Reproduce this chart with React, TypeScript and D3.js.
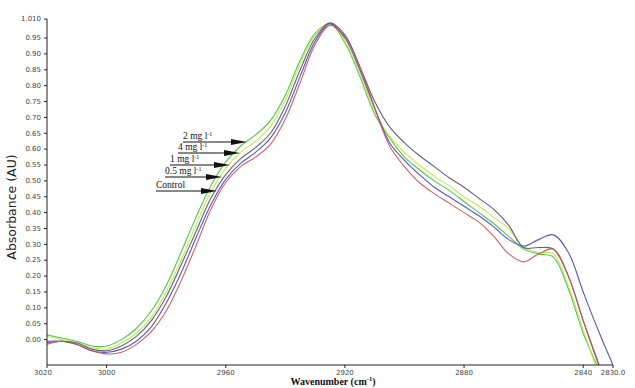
import React from "react";
import * as d3 from "d3";

const wavenumbers = [3020,3015,3010,3005,3000,2995,2990,2985,2980,2975,2970,2965,2960,2955,2950,2945,2940,2935,2930,2925,2920,2915,2910,2905,2900,2895,2890,2885,2880,2875,2870,2865,2860,2855,2850,2845,2840,2835,2830];

const mg2 = [0.015,0.005,-0.005,-0.02,-0.02,0.0,0.035,0.09,0.17,0.275,0.385,0.485,0.56,0.61,0.645,0.69,0.77,0.88,0.965,0.995,0.935,0.83,0.71,0.635,0.575,0.535,0.50,0.47,0.435,0.40,0.365,0.325,0.285,0.27,0.26,0.16,0.02,-0.09,-0.2];
const mg4 = [0.01,0.0,-0.01,-0.025,-0.03,-0.01,0.02,0.07,0.15,0.25,0.36,0.465,0.54,0.59,0.625,0.67,0.755,0.87,0.96,0.998,0.94,0.84,0.72,0.64,0.59,0.55,0.515,0.485,0.45,0.42,0.385,0.35,0.29,0.275,0.27,0.17,0.03,-0.1,-0.2];
const mg1 = [-0.01,-0.005,-0.01,-0.03,-0.035,-0.02,0.01,0.06,0.135,0.235,0.34,0.445,0.52,0.57,0.605,0.65,0.735,0.85,0.95,0.998,0.96,0.86,0.75,0.67,0.62,0.58,0.545,0.51,0.48,0.445,0.41,0.36,0.29,0.29,0.285,0.2,0.06,-0.075,-0.2];
const mg05 = [-0.005,-0.005,-0.015,-0.035,-0.04,-0.03,-0.005,0.04,0.115,0.21,0.32,0.425,0.505,0.555,0.59,0.635,0.715,0.83,0.94,0.995,0.95,0.85,0.73,0.62,0.565,0.52,0.48,0.45,0.42,0.39,0.355,0.315,0.295,0.315,0.33,0.275,0.15,0.03,-0.08];
const control = [-0.015,-0.005,-0.015,-0.035,-0.045,-0.04,-0.015,0.025,0.09,0.185,0.295,0.41,0.495,0.545,0.575,0.615,0.695,0.81,0.93,0.99,0.955,0.86,0.73,0.61,0.545,0.495,0.46,0.43,0.40,0.37,0.325,0.27,0.245,0.27,0.285,0.2,0.06,-0.07,-0.2];

const seriesValues = [mg2, mg4, mg1, mg05, control];
const seriesColors = ["#3cbf3c", "#c2e53a", "#505070", "#4545b5", "#cc5050"];

const yTicks = [0,0.05,0.1,0.15,0.2,0.25,0.3,0.35,0.4,0.45,0.5,0.55,0.6,0.65,0.7,0.75,0.8,0.85,0.9,0.95,1.01];
const xTicks = [3020,3000,2960,2920,2880,2840,2830];

const labelRows = [
  { text: "2 mg l", sup: true, y: 142, x0: 183, tip: 247 },
  { text: "4 mg l", sup: true, y: 153, x0: 178, tip: 240 },
  { text: "1 mg l", sup: true, y: 165, x0: 170, tip: 230 },
  { text: "0.5 mg l", sup: true, y: 177, x0: 165, tip: 222 },
  { text: "Control", sup: false, y: 191, x0: 156, tip: 217 },
];

export default function App() {
  const W = 635, H = 388;
  const x = d3.scaleLinear().domain([3020, 2830]).range([47, 613]);
  const y = d3.scaleLinear().domain([-0.08, 1.01]).range([365, 19]);
  const line = d3.line<number>()
    .x((_, i) => x(wavenumbers[i]))
    .y((d) => y(d))
    .curve(d3.curveCatmullRom.alpha(0.5));
  const tickFont = "'DejaVu Sans', sans-serif";
  const serif = "'Liberation Serif', 'Times New Roman', serif";
  const fmtY = (v: number) => (v === 1.01 ? "1.010" : v.toFixed(2));
  const fmtX = (v: number) => (v === 2830 ? "2830.0" : String(v));
  return (
    <svg width={W} height={H} style={{ position: "absolute", left: 0, top: 0, background: "#fff" }}>
      <defs>
        <clipPath id="plot">
          <rect x={47} y={10} width={566} height={355} />
        </clipPath>
      </defs>
      <g clipPath="url(#plot)">
        {seriesValues.map((vals, i) => (
          <path key={i} d={line(vals) || ""} fill="none" stroke={seriesColors[i]} strokeWidth={1.1} opacity={0.9} />
        ))}
      </g>
      <line x1={47} x2={47} y1={y(1.01)} y2={365} stroke="#222" strokeWidth={1} />
      {yTicks.map((t) => (
        <g key={t}>
          <line x1={44} x2={47} y1={y(t)} y2={y(t)} stroke="#222" />
          <text x={41} y={y(t)} dy="0.32em" textAnchor="end" fontSize={7} fontFamily={tickFont} fill="#444">{fmtY(t)}</text>
        </g>
      ))}
      <line x1={47} x2={613} y1={365} y2={365} stroke="#222" strokeWidth={1} />
      {xTicks.map((t) => (
        <g key={t}>
          <line x1={x(t)} x2={x(t)} y1={365} y2={368} stroke="#222" />
          <text x={x(t) - (t === 3020 ? 4 : 0)} y={375} textAnchor="middle" fontSize={7} fontFamily={tickFont} fill="#444">{fmtX(t)}</text>
        </g>
      ))}
      <text x={333} y={385} textAnchor="middle" fontSize={10} fontWeight="bold" fontFamily={serif} fill="#111">
        Wavenumber (cm<tspan dy={-4} fontSize={6.5}>-1</tspan><tspan dy={4}>)</tspan>
      </text>
      <text transform={`translate(16,207) rotate(-90)`} textAnchor="middle" fontSize={12.5} fontFamily={tickFont} fill="#222">Absorbance (AU)</text>
      {labelRows.map((r, i) => (
        <g key={i}>
          <text x={r.x0} y={r.y - 3} fontSize={9.5} fontFamily={serif} fill="#111">
            {r.text}
            {r.sup && <tspan dy={-3} fontSize={6}>-1</tspan>}
          </text>
          <line x1={r.x0} x2={r.tip - 14} y1={r.y} y2={r.y} stroke="#111" strokeWidth={1} />
          <path d={`M${r.tip - 16},${r.y - 3} L${r.tip},${r.y} L${r.tip - 16},${r.y + 3} Z`} fill="#111" />
        </g>
      ))}
    </svg>
  );
}
